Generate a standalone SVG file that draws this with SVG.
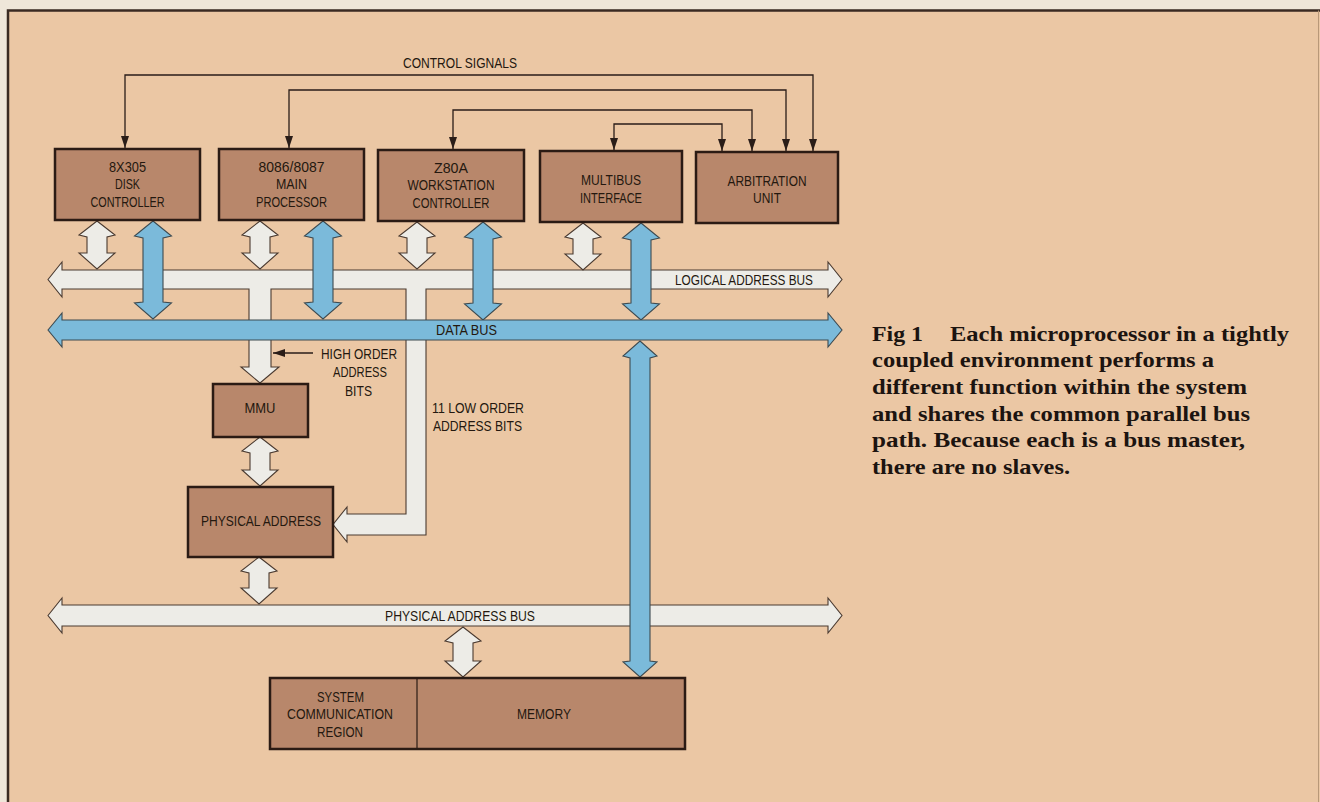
<svg xmlns="http://www.w3.org/2000/svg" width="1320" height="802" viewBox="0 0 1320 802">
<defs>
<style>
.bg{fill:#ebc7a4}
.page{fill:#efe6d9}
.frame{fill:none;stroke:#3a2a22;stroke-width:2.5}
.box{fill:#b8876b;stroke:#2b1b14;stroke-width:2.5}
.div{stroke:#2b1b14;stroke-width:1.2}
.wbus{fill:#edece7;stroke:#4a3a30;stroke-width:1.1;stroke-linejoin:miter}
.bbus{fill:#7bbada;stroke:#3d4a50;stroke-width:1.1;stroke-linejoin:miter}
.ctl{fill:none;stroke:#2a1d18;stroke-width:1.3}
.lbl{font-family:"Liberation Sans Narrow","Liberation Sans",Arial,sans-serif;font-size:15px;fill:#24180f}
.mid{text-anchor:middle}
.cap{font-family:"Liberation Serif","Times New Roman",serif;font-weight:bold;font-size:21px;fill:#1c1410}
</style>
<marker id="ah" markerUnits="userSpaceOnUse" markerWidth="13" markerHeight="9" refX="12" refY="4" orient="auto-start-reverse">
<path d="M0,0 L12,4 L0,8 Z" fill="#2a1d18"/>
</marker>
</defs>

<rect class="page" x="0" y="0" width="1320" height="802"/>
<rect class="bg" x="8" y="10.5" width="1312" height="792"/>
<path class="frame" d="M8,802 V10.5 H1320"/>
<line x1="1318.5" y1="10.5" x2="1318.5" y2="802" stroke="#b89878" stroke-width="1"/>

<g id="connectors">
<path id="logical-bus" class="wbus" d="M48,279.5 L62,262 L62,270 L828,270 L828,262 L842,279.5 L828,297 L828,289 L426,289 L426,535 L347,535 L347,542 L333,524.5 L347,507 L347,514 L406,514 L406,289 L271,289 L271,367 L279,367 L260,383 L241,367 L249,367 L249,289 L62,289 L62,297 Z"/>
<path id="physical-bus" class="wbus" d="M48,615.5 L62,598 L62,605 L828,605 L828,598 L842,615.5 L828,633 L828,626 L62,626 L62,633 Z"/>
<path class="wbus" d="M97,221 L115,235 L107,237 L107,253 L115,253 L97,269 L79,253 L87,253 L87,237 L79,235 Z"/>
<path class="wbus" d="M260,221 L278,235 L270,237 L270,253 L278,253 L260,269 L242,253 L250,253 L250,237 L242,235 Z"/>
<path class="wbus" d="M417,222 L435,236 L427,238 L427,253 L435,253 L417,269 L399,253 L407,253 L407,238 L399,236 Z"/>
<path class="wbus" d="M583,223 L601,237 L593,239 L593,254 L601,254 L583,270 L565,254 L573,254 L573,239 L565,237 Z"/>
<path class="bbus" d="M153,221 L171.5,236 L163,238 L163,302 L171.5,303 L153,319 L134.5,303 L143,302 L143,238 L134.5,236 Z"/>
<path class="bbus" d="M323,221 L341.5,236 L333,238 L333,302 L341.5,303 L323,319 L304.5,303 L313,302 L313,238 L304.5,236 Z"/>
<path class="bbus" d="M483,222 L501.5,237 L493,239 L493,303 L501.5,304 L483,320 L464.5,304 L473,303 L473,239 L464.5,237 Z"/>
<path class="bbus" d="M641,223 L659.5,238 L651,240 L651,303 L659.5,304 L641,320 L622.5,304 L631,303 L631,240 L622.5,238 Z"/>
<path id="data-bus" class="bbus" d="M48,330 L62,313 L62,320 L828,320 L828,313 L842,330 L828,347 L828,340 L62,340 L62,347 Z"/>
<path class="bbus" d="M640,341 L657,356 L650,358 L650,661 L657,662 L640,677 L623,662 L630,661 L630,358 L623,356 Z"/>
<path class="wbus" d="M260,437 L278,451 L270,453 L270,470 L278,470 L260,486 L242,470 L250,470 L250,453 L242,451 Z"/>
<path class="wbus" d="M259,557 L277,571 L269,573 L269,588 L277,588 L259,604 L241,588 L249,588 L249,573 L241,571 Z"/>
<path class="wbus" d="M463,627 L481,641 L473,643 L473,661 L481,661 L463,677 L445,661 L453,661 L453,643 L445,641 Z"/>
<path class="ctl" d="M125,148 V75 H813 V151" marker-start="url(#ah)" marker-end="url(#ah)"/>
<path class="ctl" d="M289,148 V90 H786 V151" marker-start="url(#ah)" marker-end="url(#ah)"/>
<path class="ctl" d="M453,149 V110 H752 V151" marker-start="url(#ah)" marker-end="url(#ah)"/>
<path class="ctl" d="M614,150 V124 H722 V151" marker-start="url(#ah)" marker-end="url(#ah)"/>
<path class="ctl" d="M313,353 H273" marker-end="url(#ah)"/>
</g>

<g id="bus-labels">
<text class="lbl" x="403" y="68" textLength="114" lengthAdjust="spacingAndGlyphs">CONTROL SIGNALS</text>
<text class="lbl" x="675" y="285" textLength="138" lengthAdjust="spacingAndGlyphs">LOGICAL ADDRESS BUS</text>
<text class="lbl" x="436" y="335" textLength="61" lengthAdjust="spacingAndGlyphs">DATA BUS</text>
<text class="lbl mid" x="359" y="359" textLength="76" lengthAdjust="spacingAndGlyphs">HIGH ORDER</text>
<text class="lbl mid" x="360" y="377" textLength="54" lengthAdjust="spacingAndGlyphs">ADDRESS</text>
<text class="lbl mid" x="358.5" y="396" textLength="27" lengthAdjust="spacingAndGlyphs">BITS</text>
<text class="lbl" x="432" y="413" textLength="92" lengthAdjust="spacingAndGlyphs">11 LOW ORDER</text>
<text class="lbl" x="433" y="431" textLength="89" lengthAdjust="spacingAndGlyphs">ADDRESS BITS</text>
<text class="lbl" x="385" y="621" textLength="150" lengthAdjust="spacingAndGlyphs">PHYSICAL ADDRESS BUS</text>
</g>

<g id="disk-controller">
<rect class="box" x="55" y="149" width="145" height="71"/>
<text class="lbl mid" x="127.5" y="172" textLength="37" lengthAdjust="spacingAndGlyphs">8X305</text>
<text class="lbl mid" x="127.5" y="189" textLength="25" lengthAdjust="spacingAndGlyphs">DISK</text>
<text class="lbl mid" x="127.5" y="207" textLength="74" lengthAdjust="spacingAndGlyphs">CONTROLLER</text>
</g>
<g id="main-processor">
<rect class="box" x="219" y="149" width="145" height="71"/>
<text class="lbl mid" x="291.5" y="172" textLength="66" lengthAdjust="spacingAndGlyphs">8086/8087</text>
<text class="lbl mid" x="291.5" y="189" textLength="31" lengthAdjust="spacingAndGlyphs">MAIN</text>
<text class="lbl mid" x="291.5" y="207" textLength="71" lengthAdjust="spacingAndGlyphs">PROCESSOR</text>
</g>
<g id="workstation-controller">
<rect class="box" x="378" y="150" width="146" height="71"/>
<text class="lbl mid" x="451" y="173" textLength="34" lengthAdjust="spacingAndGlyphs">Z80A</text>
<text class="lbl mid" x="451" y="190" textLength="87" lengthAdjust="spacingAndGlyphs">WORKSTATION</text>
<text class="lbl mid" x="451" y="208" textLength="77" lengthAdjust="spacingAndGlyphs">CONTROLLER</text>
</g>
<g id="multibus-interface">
<rect class="box" x="540" y="151" width="142" height="71"/>
<text class="lbl mid" x="611" y="185" textLength="60" lengthAdjust="spacingAndGlyphs">MULTIBUS</text>
<text class="lbl mid" x="611" y="203" textLength="62" lengthAdjust="spacingAndGlyphs">INTERFACE</text>
</g>
<g id="arbitration-unit">
<rect class="box" x="696" y="152" width="142" height="71"/>
<text class="lbl mid" x="767" y="186" textLength="79" lengthAdjust="spacingAndGlyphs">ARBITRATION</text>
<text class="lbl mid" x="767" y="203" textLength="28" lengthAdjust="spacingAndGlyphs">UNIT</text>
</g>
<g id="mmu">
<rect class="box" x="213" y="384" width="95" height="53"/>
<text class="lbl mid" x="260" y="413" textLength="31" lengthAdjust="spacingAndGlyphs">MMU</text>
</g>
<g id="physical-address">
<rect class="box" x="188" y="487" width="145" height="70"/>
<text class="lbl mid" x="261" y="526" textLength="120" lengthAdjust="spacingAndGlyphs">PHYSICAL ADDRESS</text>
</g>
<g id="memory">
<rect class="box" x="270" y="678" width="415" height="71"/>
<line class="div" x1="417" y1="678" x2="417" y2="749"/>
<text class="lbl mid" x="340.5" y="702" textLength="47" lengthAdjust="spacingAndGlyphs">SYSTEM</text>
<text class="lbl mid" x="340" y="719" textLength="106" lengthAdjust="spacingAndGlyphs">COMMUNICATION</text>
<text class="lbl mid" x="340" y="737" textLength="46" lengthAdjust="spacingAndGlyphs">REGION</text>
<text class="lbl mid" x="544" y="719" textLength="54" lengthAdjust="spacingAndGlyphs">MEMORY</text>
</g>

<g id="caption">
<text class="cap" x="872" y="341" textLength="51" lengthAdjust="spacingAndGlyphs">Fig 1</text>
<text class="cap" x="950" y="341" textLength="339" lengthAdjust="spacingAndGlyphs">Each microprocessor in a tightly</text>
<text class="cap" x="872" y="367" textLength="342" lengthAdjust="spacingAndGlyphs">coupled environment performs a</text>
<text class="cap" x="872" y="394" textLength="375" lengthAdjust="spacingAndGlyphs">different function within the system</text>
<text class="cap" x="872" y="421" textLength="378" lengthAdjust="spacingAndGlyphs">and shares the common parallel bus</text>
<text class="cap" x="872" y="447" textLength="373" lengthAdjust="spacingAndGlyphs">path. Because each is a bus master,</text>
<text class="cap" x="872" y="474" textLength="198" lengthAdjust="spacingAndGlyphs">there are no slaves.</text>
</g>
</svg>
